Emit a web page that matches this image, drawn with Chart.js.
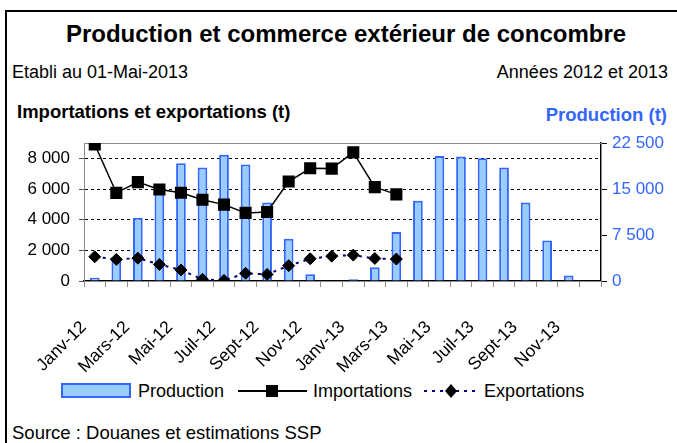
<!DOCTYPE html>
<html>
<head>
<meta charset="utf-8">
<script src="https://cdn.jsdelivr.net/npm/chart.js@4.4.0/dist/chart.umd.min.js"></script>
<style>
  body { margin: 0; width: 677px; height: 443px; background: #fff; overflow: hidden;
         font-family: "Liberation Sans", Arial, sans-serif; color: #000; }
  .abs { position: absolute; white-space: nowrap; }
  #frame { left: 5px; top: 10px; width: 700px; height: 500px;
           border-left: 2px solid #000; border-top: 2px solid #000; }
  #title { left: 0; width: 692px; top: 20px; text-align: center; font-size: 24px; font-weight: bold; }
  #made { left: 12px; top: 62px; font-size: 18px; }
  #years { right: 9px; top: 62px; font-size: 18px; }
  #leftTitle { left: 17px; top: 101px; font-size: 18.5px; font-weight: bold; }
  #rightTitle { right: 10px; top: 104px; font-size: 18.5px; font-weight: bold; color: #3366ff; }
  #chartBox { left: 0; top: 120px; width: 677px; height: 260px; }
  #legend { left: 61px; top: 381px; height: 20px; font-size: 18px; display: flex; align-items: center; }
  #legend .item { display: flex; align-items: center; }
  #legend svg { margin-right: 6px; }
  #source { left: 12px; top: 422px; font-size: 18.5px; }
</style>
</head>
<body>
<div id="frame" class="abs"></div>
<div id="title" class="abs">Production et commerce extérieur de concombre</div>
<div id="made" class="abs">Etabli au 01-Mai-2013</div>
<div id="years" class="abs">Années 2012 et 2013</div>
<div id="leftTitle" class="abs">Importations et exportations (t)</div>
<div id="rightTitle" class="abs">Production (t)</div>
<div id="chartBox" class="abs"><canvas id="chart" width="677" height="260"></canvas></div>
<div id="legend" class="abs">
  <div class="item">
    <svg width="71" height="16"><rect x="1" y="1" width="68" height="13" fill="#99ccff" stroke="#3366ff" stroke-width="2"/></svg>
    <span>Production</span>
  </div>
  <div class="item" style="margin-left:14px">
    <svg width="69" height="16"><line x1="0" y1="8" x2="69" y2="8" stroke="#000" stroke-width="2"/><rect x="28" y="2" width="12" height="12" fill="#000"/></svg>
    <span>Importations</span>
  </div>
  <div class="item" style="margin-left:12px">
    <svg width="54" height="16"><line x1="0" y1="8" x2="54" y2="8" stroke="#000080" stroke-width="2" stroke-dasharray="3,5"/><polygon points="27,1 33,8 27,15 21,8" fill="#000"/></svg>
    <span>Exportations</span>
  </div>
</div>
<div id="source" class="abs">Source : Douanes et estimations SSP</div>

<script>
// Months (every other one is labelled on the axis)
const months = [
    'Janv-12', 'Févr-12', 'Mars-12', 'Avr-12', 'Mai-12', 'Juin-12',
    'Juil-12', 'Août-12', 'Sept-12', 'Oct-12', 'Nov-12', 'Déc-12',
    'Janv-13', 'Févr-13', 'Mars-13', 'Avr-13', 'Mai-13', 'Juin-13',
    'Juil-13', 'Août-13', 'Sept-13', 'Oct-13', 'Nov-13', 'Déc-13'
];

// Production (t), right axis
const production = [
    540, 3500, 10300, 15000, 19200, 18500, 20600, 19000, 12800, 6900, 1100, 0,
    280, 2230, 8000, 13100, 20400, 20300, 20000, 18500, 12800, 6600, 900, 0
];

// Importations (t), left axis - known up to Mars-13
const importations = [
    8900, 5750, 6450, 5970, 5760, 5300, 4980, 4440, 4500, 6490, 7350, 7330,
    8390, 6120, 5650, null, null, null, null, null, null, null, null, null
];

// Exportations (t), left axis
const exportations = [
    1580, 1410, 1490, 1080, 720, 110, 40, 500, 430, 1000, 1450, 1620,
    1690, 1470, 1430, null, null, null, null, null, null, null, null, null
];

const leftTicks = [0, 2000, 4000, 6000, 8000];
const rightTicks = [0, 7500, 15000, 22500];

// French style thousands: "8 000"
function formatNumber(n) {
    return String(n).replace(/\B(?=(\d{3})+(?!\d))/g, ' ');
}

// Gray frame around the plot area
const plotFrame = {
    id: 'plotFrame',
    beforeDatasetsDraw(chart) {
        const a = chart.chartArea;
        const ctx = chart.ctx;
        ctx.save();
        ctx.strokeStyle = '#8c8c8c';
        ctx.lineWidth = 1;
        ctx.strokeRect(a.left + 0.5, a.top + 0.5, a.right - a.left, a.bottom - a.top);
        ctx.restore();
    }
};

const font = { family: '"Liberation Sans", Arial, sans-serif', size: 17 };

new Chart(document.getElementById('chart').getContext('2d'), {
    data: {
        labels: months,
        datasets: [
            {
                type: 'line',
                label: 'Exportations',
                data: exportations,
                yAxisID: 'y',
                borderColor: '#000080',
                borderWidth: 2,
                borderDash: [3, 5],
                pointStyle: 'rectRot',
                pointRadius: 6,
                pointBackgroundColor: '#000',
                pointBorderColor: '#000',
                pointBorderWidth: 1,
                order: 1
            },
            {
                type: 'line',
                label: 'Importations',
                data: importations,
                yAxisID: 'y',
                borderColor: '#000',
                borderWidth: 1.5,
                pointStyle: 'rect',
                pointRadius: 7.5,
                pointBackgroundColor: '#000',
                pointBorderColor: '#000',
                order: 2
            },
            {
                type: 'bar',
                label: 'Production',
                data: production,
                yAxisID: 'y1',
                backgroundColor: '#99ccff',
                borderColor: '#3366ff',
                borderWidth: 2,
                borderSkipped: 'bottom',
                barPercentage: 0.45,
                categoryPercentage: 1,
                order: 3
            }
        ]
    },
    options: {
        responsive: false,
        animation: false,
        layout: { padding: { top: 23, left: 0, right: 0, bottom: 0 } },
        plugins: {
            legend: { display: false },
            tooltip: { enabled: false }
        },
        scales: {
            x: {
                type: 'category',
                offset: true,
                grid: { offset: true, drawOnChartArea: false, color: '#8c8c8c', tickLength: 6 },
                border: { color: '#000', width: 1.5 },
                ticks: {
                    autoSkip: false,
                    maxRotation: 45,
                    minRotation: 45,
                    padding: 30,
                    labelOffset: -11,
                    color: '#000',
                    font: { family: font.family, size: 17.5 },
                    callback: function(value, index) {
                        return index % 2 === 0 ? months[index] : '';
                    }
                },
                afterFit: function(scale) { scale.height = 99; }
            },
            y: {
                position: 'left',
                min: 0,
                max: 9000,
                grid: {
                    color: ctx => ctx.tick && ctx.tick.value > 0 ? '#000' : 'rgba(0,0,0,0)',
                    tickColor: '#555',
                    tickLength: 5,
                    drawTicks: true
                },
                border: { color: '#8c8c8c', dash: [3, 3], display: true },
                ticks: {
                    padding: 9,
                    color: '#000',
                    font: font,
                    callback: v => formatNumber(v)
                },
                afterBuildTicks: function(scale) {
                    scale.ticks = leftTicks.map(v => ({ value: v }));
                },
                afterFit: function(scale) { scale.width = 84; }
            },
            y1: {
                position: 'right',
                min: 0,
                max: 22500,
                grid: { drawOnChartArea: false, color: '#000', tickLength: 6 },
                border: { color: '#000', width: 1.5 },
                ticks: {
                    padding: 5,
                    color: '#3366ff',
                    font: font,
                    callback: v => formatNumber(v)
                },
                afterBuildTicks: function(scale) {
                    scale.ticks = rightTicks.map(v => ({ value: v }));
                },
                afterFit: function(scale) { scale.width = 76; }
            }
        }
    },
    plugins: [plotFrame]
});
</script>
</body>
</html>
